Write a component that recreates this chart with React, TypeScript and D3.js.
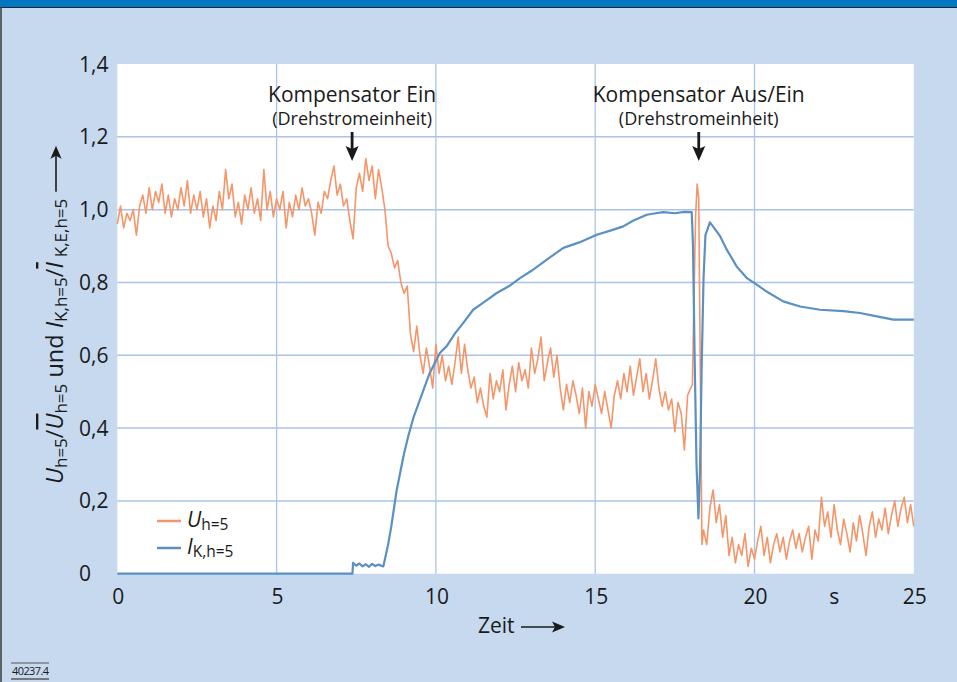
import React, { useEffect, useRef } from 'react';
import * as d3 from 'd3';

// U_h=5 (orange), sampled every 0.1 s from 0 to 18.0 s
const uStart = 0;
const uStep = 0.1;
const uBefore = [
  0.96, 1.01, 0.95, 0.99, 0.97, 1.0, 0.93, 1.01, 1.04, 0.99,
  1.06, 1.0, 1.05, 1.02, 1.07, 0.99, 1.04, 0.98, 1.03, 1.0,
  1.06, 1.01, 1.08, 0.99, 1.04, 1.0, 1.05, 0.98, 1.03, 0.95,
  1.01, 0.97, 1.05, 1.0, 1.11, 1.03, 1.07, 0.98, 1.02, 0.96,
  1.04, 1.0, 1.06, 0.99, 1.03, 0.97, 1.11, 1.0, 1.05, 0.98,
  1.03, 1.0, 1.05, 0.95, 1.02, 0.98, 1.04, 1.0, 1.06, 1.01,
  1.03, 0.99, 0.93, 1.02, 0.99, 1.05, 1.03, 1.08, 1.12, 1.04,
  1.07, 1.01, 1.03, 0.97, 0.92, 1.06, 1.1, 1.05, 1.14, 1.08,
  1.12, 1.03, 1.11, 1.06, 1.0, 0.9, 0.88, 0.84, 0.86, 0.8,
  0.77, 0.79, 0.66, 0.61, 0.68, 0.6, 0.55, 0.62, 0.57, 0.51,
  0.63, 0.55, 0.6, 0.53, 0.57, 0.52, 0.58, 0.65, 0.55, 0.63,
  0.56, 0.51, 0.54, 0.47, 0.51, 0.46, 0.43, 0.55, 0.48, 0.53,
  0.5, 0.56, 0.45, 0.52, 0.57, 0.5, 0.58, 0.53, 0.56, 0.51,
  0.62, 0.55, 0.59, 0.65, 0.53, 0.58, 0.62, 0.54, 0.6, 0.51,
  0.45, 0.52, 0.47, 0.53, 0.49, 0.44, 0.51, 0.4, 0.5, 0.46,
  0.52, 0.48, 0.44, 0.5, 0.45, 0.4, 0.49, 0.53, 0.48, 0.55,
  0.5, 0.57, 0.49, 0.54, 0.59, 0.5, 0.55, 0.48, 0.53, 0.59,
  0.51, 0.46, 0.5, 0.45, 0.48, 0.39, 0.47, 0.44, 0.34, 0.49,
  0.51,
];
// switching spike around 18.2 s
const uSpikeTime = [18.05, 18.1, 18.15, 18.2, 18.25, 18.3, 18.35];
const uSpikeValue = [0.52, 0.75, 0.98, 1.07, 1.03, 0.55, 0.08];
// after switching, every 0.1 s from 18.4 to 25.0 s
const uAfterStart = 18.4;
const uAfter = [
  0.12, 0.08, 0.18, 0.23, 0.14, 0.19, 0.1, 0.16, 0.05, 0.1,
  0.03, 0.08, 0.05, 0.11, 0.02, 0.07, 0.04, 0.09, 0.13, 0.05,
  0.1, 0.03, 0.08, 0.11, 0.06, 0.1, 0.04, 0.09, 0.12, 0.07,
  0.11, 0.06, 0.1, 0.13, 0.04, 0.12, 0.09, 0.21, 0.13, 0.17,
  0.1, 0.19, 0.12, 0.08, 0.15, 0.11, 0.06, 0.14, 0.09, 0.16,
  0.11, 0.05, 0.13, 0.17, 0.1, 0.15, 0.12, 0.18, 0.11, 0.16,
  0.2, 0.13, 0.18, 0.21, 0.14, 0.19, 0.13,
];

// I_K,h=5 (blue)
const iTime = [
  0, 7.38, 7.4, 7.5, 7.6, 7.7, 7.8, 7.9, 8.0, 8.1, 8.2, 8.35, 8.5, 8.6, 8.77,
  9.0, 9.13, 9.3, 9.5, 9.81, 10.13, 10.34, 10.6, 10.86, 11.17, 11.5, 11.91,
  12.3, 12.64, 13.0, 13.27, 13.6, 14.0, 14.5, 15.05, 15.5, 15.88, 16.2, 16.62,
  16.9, 17.14, 17.5, 17.8, 18.03, 18.07, 18.12, 18.18, 18.24, 18.29, 18.34,
  18.4, 18.46, 18.6, 18.75, 18.92, 19.13, 19.44, 19.76, 20.0, 20.38, 20.9,
  21.43, 22.06, 22.79, 23.31, 23.84, 24.36, 25,
];
const iValue = [
  0, 0, 0.03, 0.022, 0.028, 0.02, 0.026, 0.019, 0.027, 0.021, 0.025, 0.02,
  0.08, 0.13, 0.23, 0.33, 0.377, 0.43, 0.478, 0.552, 0.607, 0.625, 0.66,
  0.689, 0.725, 0.745, 0.771, 0.79, 0.812, 0.832, 0.849, 0.87, 0.895, 0.91,
  0.931, 0.943, 0.954, 0.97, 0.986, 0.99, 0.993, 0.99, 0.994, 0.993, 0.9,
  0.6, 0.3, 0.152, 0.285, 0.56, 0.81, 0.93, 0.965, 0.948, 0.927, 0.89, 0.844,
  0.812, 0.798, 0.775, 0.748, 0.734, 0.725, 0.721, 0.716, 0.707, 0.698, 0.698,
];

const xTicks = [0, 5, 10, 15, 20, 25];
const yTicks = [0, 0.2, 0.4, 0.6, 0.8, 1.0, 1.2, 1.4];
const xGrid = [5, 10, 15, 20];
const yGrid = [0.2, 0.4, 0.6, 0.8, 1.0, 1.2];

const notes = [
  { t: 7.37, title: 'Kompensator Ein', sub: '(Drehstromeinheit)' },
  { t: 18.25, title: 'Kompensator Aus/Ein', sub: '(Drehstromeinheit)' },
];

const FONT = "'Open Sans', 'DejaVu Sans', sans-serif";
const ORANGE = '#f5956a';
const BLUE = '#5b90c2';
const GRID = '#a9c4e6';
const BG = '#c6d9ef';

const App: React.FC = () => {
  const svgRef = useRef<SVGSVGElement>(null);

  useEffect(() => {
    if (!svgRef.current) return;
    const width = 957;
    const height = 682;
    const svg = d3.select(svgRef.current);
    svg.selectAll('*').remove();
    svg.attr('width', width).attr('height', height);

    // frame
    svg.append('rect').attr('width', width).attr('height', height).attr('fill', BG);
    svg.append('rect').attr('width', width).attr('height', 7).attr('fill', '#0077c0');
    svg.append('line').attr('x1', 0).attr('x2', width).attr('y1', 7.5).attr('y2', 7.5)
      .attr('stroke', '#1d2b38').attr('stroke-width', 1.2);
    svg.append('line').attr('x1', 1).attr('x2', 1).attr('y1', 7).attr('y2', height)
      .attr('stroke', '#3a3a3a').attr('stroke-width', 1.5);

    const x = d3.scaleLinear().domain([0, 25]).range([117.3, 913.8]);
    const y = d3.scaleLinear().domain([0, 1.4]).range([573.7, 64]);

    // plot area
    svg.append('rect')
      .attr('x', x(0)).attr('y', y(1.4))
      .attr('width', x(25) - x(0)).attr('height', y(0) - y(1.4))
      .attr('fill', '#ffffff');

    const g = svg.append('g');
    xGrid.forEach(t => {
      g.append('line').attr('x1', x(t)).attr('x2', x(t)).attr('y1', y(0)).attr('y2', y(1.4))
        .attr('stroke', GRID).attr('stroke-width', 1.3);
    });
    yGrid.forEach(v => {
      g.append('line').attr('x1', x(0)).attr('x2', x(25)).attr('y1', y(v)).attr('y2', y(v))
        .attr('stroke', GRID).attr('stroke-width', 1.5);
    });

    // tick labels
    yTicks.forEach(v => {
      svg.append('text')
        .attr('x', 79).attr('y', y(v)).attr('dy', '0.36em')
        .style('font-family', FONT).style('font-size', '21px').attr('fill', '#1a1a1a')
        .text(v === 0 ? '0' : d3.format('.1f')(v).replace('.', ','));
    });
    xTicks.forEach(t => {
      svg.append('text')
        .attr('x', x(t) + 1).attr('y', 604).attr('text-anchor', 'middle')
        .style('font-family', FONT).style('font-size', '21px').attr('fill', '#1a1a1a')
        .text(t);
    });
    svg.append('text')
      .attr('x', x(22.5)).attr('y', 604).attr('text-anchor', 'middle')
      .style('font-family', FONT).style('font-size', '21px').attr('fill', '#1a1a1a')
      .text('s');

    // x axis title
    svg.append('text')
      .attr('x', 478).attr('y', 633)
      .style('font-family', FONT).style('font-size', '21px').attr('fill', '#1a1a1a')
      .text('Zeit');
    const arrowRight = (x0: number, x1: number, yy: number) => {
      svg.append('line').attr('x1', x0).attr('x2', x1 - 8).attr('y1', yy).attr('y2', yy)
        .attr('stroke', '#1a1a1a').attr('stroke-width', 1.6);
      svg.append('path')
        .attr('d', `M${x1 - 13},${yy - 5.5} L${x1},${yy} L${x1 - 13},${yy + 5.5} L${x1 - 10},${yy} Z`)
        .attr('fill', '#1a1a1a');
    };
    arrowRight(521, 565, 627);

    // series
    const uPoints: [number, number][] = [
      ...uBefore.map((v, i) => [uStart + i * uStep, v] as [number, number]),
      ...uSpikeTime.map((t, i) => [t, uSpikeValue[i]] as [number, number]),
      ...uAfter.map((v, i) => [uAfterStart + i * uStep, v] as [number, number]),
    ];
    const iPoints: [number, number][] = iTime.map((t, i) => [t, iValue[i]]);
    const line = d3.line<[number, number]>().x(d => x(d[0])).y(d => y(d[1]));

    svg.append('path').attr('d', line(uPoints) as string)
      .attr('fill', 'none').attr('stroke', ORANGE).attr('stroke-width', 1.6)
      .attr('stroke-linejoin', 'round');
    svg.append('path').attr('d', line(iPoints) as string)
      .attr('fill', 'none').attr('stroke', BLUE).attr('stroke-width', 2.2)
      .attr('stroke-linejoin', 'round');

    // annotations
    notes.forEach(n => {
      const cx = x(n.t);
      svg.append('text').attr('x', cx).attr('y', 102).attr('text-anchor', 'middle')
        .style('font-family', FONT).style('font-size', '21px').attr('fill', '#1a1a1a')
        .text(n.title);
      svg.append('text').attr('x', cx).attr('y', 125).attr('text-anchor', 'middle')
        .style('font-family', FONT).style('font-size', '18px').attr('fill', '#1a1a1a')
        .text(n.sub);
      svg.append('line').attr('x1', cx).attr('x2', cx).attr('y1', 132).attr('y2', 150)
        .attr('stroke', '#1a1a1a').attr('stroke-width', 2.8);
      svg.append('path')
        .attr('d', `M${cx - 6.5},${146} L${cx},${161} L${cx + 6.5},${146} L${cx},${149} Z`)
        .attr('fill', '#1a1a1a');
    });

    // legend
    const legend = [
      { color: ORANGE, main: 'U', sub: 'h=5', y: 521 },
      { color: BLUE, main: 'I', sub: 'K,h=5', y: 548 },
    ];
    legend.forEach(l => {
      svg.append('line').attr('x1', 157).attr('x2', 181).attr('y1', l.y).attr('y2', l.y)
        .attr('stroke', l.color).attr('stroke-width', 2.5);
      const t = svg.append('text').attr('x', 187).attr('y', l.y + 6)
        .style('font-family', FONT).style('font-size', '21px').attr('fill', '#1a1a1a');
      t.append('tspan').style('font-style', 'italic').text(l.main);
      t.append('tspan').attr('dy', 3).style('font-size', '15.5px').text(l.sub);
    });

    // y axis title
    const yg = svg.append('g').attr('transform', 'translate(63,484) rotate(-90)');
    const yt = yg.append('text').attr('x', 0).attr('y', 0)
      .style('font-family', FONT).style('font-size', '23.5px').attr('fill', '#1a1a1a');
    const parts: { s: string; italic?: boolean; sub?: boolean; bar?: boolean; dx?: number }[] = [
      { s: 'U', italic: true },
      { s: 'h=5', sub: true },
      { s: '/' },
      { s: 'U', italic: true, bar: true },
      { s: 'h=5', sub: true },
      { s: '\u00a0und\u00a0' },
      { s: 'I', italic: true },
      { s: 'K,h=5', sub: true },
      { s: '/' },
      { s: 'I', italic: true, bar: true },
      { s: 'K,E,h=5', sub: true, dx: 5 },
    ];
    let lowered = false;
    parts.forEach(p => {
      const ts = yt.append('tspan').text(p.s);
      if (p.italic) ts.style('font-style', 'italic');
      if (p.bar) ts.style('text-decoration', 'overline');
      if (p.sub) {
        ts.style('font-size', '17px');
        if (!lowered) ts.attr('dy', 4);
        lowered = true;
      } else if (lowered) {
        ts.attr('dy', -4);
        lowered = false;
      }
      if (p.dx) ts.attr('dx', p.dx);
    });
    const len = (yt.node() as SVGTextElement).getComputedTextLength();
    yg.append('line').attr('x1', len + 12).attr('x2', len + 48).attr('y1', -7).attr('y2', -7)
      .attr('stroke', '#1a1a1a').attr('stroke-width', 1.6);
    const a = len + 58;
    yg.append('path')
      .attr('d', `M${a - 13},${-12.5} L${a},${-7} L${a - 13},${-1.5} L${a - 10},${-7} Z`)
      .attr('fill', '#1a1a1a');

    // figure number
    svg.append('line').attr('x1', 11).attr('x2', 49).attr('y1', 663).attr('y2', 663)
      .attr('stroke', '#555').attr('stroke-width', 1);
    svg.append('text').attr('x', 12).attr('y', 675)
      .style('font-family', FONT).style('font-size', '11px').style('letter-spacing', '-0.6px')
      .attr('fill', '#1a1a1a').text('40237.4');
    svg.append('line').attr('x1', 11).attr('x2', 49).attr('y1', 679).attr('y2', 679)
      .attr('stroke', '#777').attr('stroke-width', 2);
  }, []);

  return (
    <div style={{ position: 'absolute', left: 0, top: 0 }}>
      <svg ref={svgRef} style={{ display: 'block' }} />
    </div>
  );
};

export default App;
